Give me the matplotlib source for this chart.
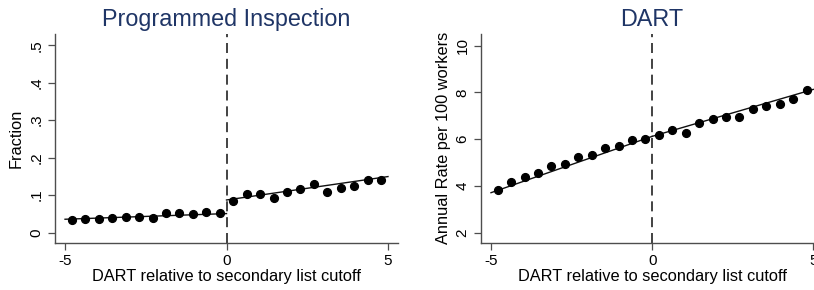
import os

os.environ.setdefault("MPLCONFIGDIR", "/tmp/matplotlib")

import matplotlib

matplotlib.use("Agg")
import matplotlib.pyplot as plt

plt.rcParams["font.family"] = ["Liberation Sans", "DejaVu Sans"]

# bin centres (DART relative to secondary list cutoff)
bins_left = [-4.79, -4.375, -3.96, -3.54, -3.125, -2.71, -2.29, -1.875, -1.46, -1.04, -0.625, -0.21]
bins_right = [0.21, 0.625, 1.04, 1.46, 1.875, 2.29, 2.71, 3.125, 3.54, 3.96, 4.375, 4.79]

# programmed inspection fraction, binned means
insp_left = [0.034, 0.036, 0.036, 0.038, 0.042, 0.041, 0.038, 0.053, 0.051, 0.050, 0.056, 0.051]
insp_right = [0.085, 0.102, 0.102, 0.093, 0.109, 0.116, 0.129, 0.107, 0.120, 0.123, 0.141, 0.141]
# fitted lines: (value at -5, value at 0) and (value at 0, value at 5)
insp_fit_left = [0.0356, 0.0507]
insp_fit_right = [0.087, 0.1495]

# DART rate per 100 workers, binned means
dart_left = [3.81, 4.18, 4.38, 4.55, 4.84, 4.94, 5.24, 5.31, 5.64, 5.72, 5.97, 6.02]
dart_right = [6.19, 6.39, 6.28, 6.68, 6.86, 6.96, 6.96, 7.28, 7.40, 7.49, 7.71, 8.11]
dart_fit_left = [3.71, 6.12]
dart_fit_right = [6.12, 8.13]

insp_yticks = [0, 0.1, 0.2, 0.3, 0.4, 0.5]
insp_yticklabels = ["0", ".1", ".2", ".3", ".4", ".5"]
dart_yticks = [2, 4, 6, 8, 10]
xticks = [-5, 0, 5]

TITLE_COLOR = "#1f3566"
AXIS_COLOR = "#4d4d4d"
W, H = 814, 290


def style_axes(ax):
    for side in ["top", "right"]:
        ax.spines[side].set_visible(False)
    for side in ["left", "bottom"]:
        ax.spines[side].set_color(AXIS_COLOR)
        ax.spines[side].set_linewidth(1.0)
    ax.tick_params(axis="both", direction="out", length=5, width=0.9,
                   color=AXIS_COLOR, labelsize=11, pad=3)
    ax.set_xticks(xticks)
    ax.set_xticklabels([str(x) for x in xticks])
    for lab in ax.get_yticklabels():
        lab.set_rotation(90)
        lab.set_va("center")
    ax.set_xlabel("DART relative to secondary list cutoff", fontsize=11.8, labelpad=1)


def draw_panel(ax, yl, yr, fit_l, fit_r):
    ax.axvline(0, color="#222222", linewidth=1.2, dashes=(6, 3.5), zorder=1)
    ax.plot([-5, 0], fit_l, color="#111111", linewidth=1.0, zorder=2)
    ax.plot([0, 5], fit_r, color="#111111", linewidth=1.0, zorder=2)
    ax.plot(bins_left + bins_right, yl + yr, "o", color="black",
            markersize=5.6, zorder=3)


fig = plt.figure(figsize=(W / 100, H / 100), dpi=100)

ax1 = fig.add_axes([54.7 / W, (H - 242.7) / H, (398 - 54.7) / W, (242.7 - 34) / H])
draw_panel(ax1, insp_left, insp_right, insp_fit_left, insp_fit_right)
ax1.set_xlim(-5.32, 5.31)
ax1.set_ylim(-0.027, 0.530)
ax1.set_yticks(insp_yticks)
ax1.set_yticklabels(insp_yticklabels)
style_axes(ax1)
ax1.set_ylabel("Fraction", fontsize=11.8, labelpad=4)
ax1.set_title("Programmed Inspection", fontsize=16.8, color=TITLE_COLOR, pad=6)

ax2 = fig.add_axes([480.7 / W, (H - 242.7) / H, (823.6 - 480.7) / W, (242.7 - 34) / H])
draw_panel(ax2, dart_left, dart_right, dart_fit_left, dart_fit_right)
ax2.set_xlim(-5.32, 5.32)
ax2.set_ylim(1.57, 10.5)
ax2.set_yticks(dart_yticks)
ax2.set_yticklabels([str(v) for v in dart_yticks])
style_axes(ax2)
ax2.set_ylabel("Annual Rate per 100 workers", fontsize=11.8, labelpad=3)
ax2.set_title("DART", fontsize=16.8, color=TITLE_COLOR, pad=6)

fig.savefig("out.png", dpi=100)
plt.close(fig)
